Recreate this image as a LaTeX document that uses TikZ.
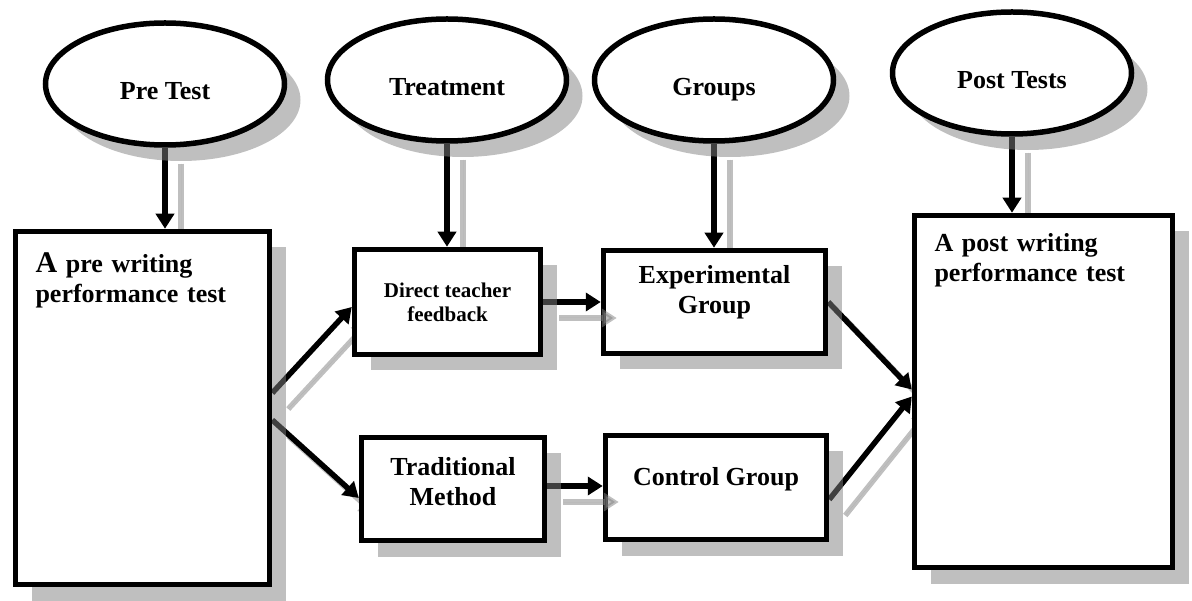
\documentclass[tikz,border=0pt]{standalone}
\usepackage{fontspec}
\setmainfont{Liberation Serif}
\usetikzlibrary{shapes.geometric, arrows.meta, shadows}
\definecolor{ShadeGray}{RGB}{128,128,128}
\pgfdeclarelayer{background}
\pgfdeclarelayer{front}
\pgfsetlayers{background,main,front}

\begin{document}
\begin{tikzpicture}[x=1pt, y=-1pt,
    font=\bfseries\fontsize{26}{30}\selectfont,
    shade/.style={drop shadow={shadow xshift=16pt, shadow yshift=-16pt, fill=ShadeGray, opacity=0.5}},
    oval/.style={ellipse, draw, line width=5.5pt, fill=white, shade, minimum width=239pt, minimum height=122pt, text height=31pt, text depth=0pt},
    box/.style={rectangle, draw, line width=5.5pt, fill=white, shade, align=center},
    bigbox/.style={box, align=left, inner xsep=20pt, inner ysep=0pt},
    arr/.style={line width=5.5pt, -{Triangle[length=15pt, width=18pt]}},
    arrshade/.style={arr, draw=ShadeGray, fill=ShadeGray, opacity=0.5, transform canvas={shift={(16pt,-16pt)}}}]
          \useasboundingbox (0,0) rectangle (1192,601);
          \node[oval] (PreTest) at (165,84) {Pre Test};
          \node[oval] (Treatment) at (447,80) {Treatment};
          \node[oval] (Groups) at (714,80) {Groups};
          \node[oval] (PostTests) at (1012,73) {Post Tests};
          \node[bigbox, text width=214pt, text height=41pt, text depth=312pt] (PreBox) at (142.5,408)
            {{\fontsize{30}{30}\selectfont A} pre writing\\performance test};
          \node[box, minimum width=186pt, minimum height=105pt, font=\bfseries\fontsize{21}{24}\selectfont] (Direct) at (447.5,302)
            {Direct teacher\\feedback};
          \node[box, minimum width=183pt, minimum height=103pt, text height=33pt] (Trad) at (453,489) {Traditional\\Method};
          \node[box, minimum width=222pt, minimum height=103pt, text height=28pt] (Exp) at (714.5,302) {Experimental\\Group};
          \node[box, minimum width=221pt, minimum height=104pt, text depth=23pt] (Control) at (716,487.5) {Control Group};
          \node[bigbox, text width=218pt, text height=36.5pt, text depth=315.5pt] (Post) at (1043.5,391.5)
            {A post writing\\performance test};
          \coordinate (preUp) at ([yshift=15pt]PreBox.east);
          \coordinate (preDown) at ([yshift=-12pt]PreBox.east);
          \coordinate (dirIn) at ([yshift=-5pt]Direct.west);
          \coordinate (tradIn) at ([yshift=-9pt]Trad.west);
          \coordinate (dirOut) at (Direct.east);
          \coordinate (expIn) at (Direct.east -| Exp.west);
          \coordinate (tradOut) at ([yshift=3pt]Trad.east);
          \coordinate (ctrlIn) at (tradOut -| Control.west);
          \coordinate (expOut) at (Exp.east);
          \coordinate (ctrlOut) at ([yshift=-12pt]Control.east);
          \coordinate (postUp) at ([yshift=2pt]Post.west);
          \coordinate (postDown) at ([yshift=-5pt]Post.west);
          \begin{pgfonlayer}{background}
            \foreach \s/\t in {PreTest/PreBox, Treatment/Direct, Groups/Exp, PostTests/Post} {
              \draw[arrshade] (\s) -- (\s |- \t.north);
              \draw[arr] (\s) -- (\s |- \t.north);
            }
            \foreach \s/\t in {preUp/dirIn, preDown/tradIn, expOut/postUp, ctrlOut/postDown} {
              \draw[arrshade] (\s) -- (\t);
              \draw[arr] (\s) -- (\t);
            }
            \foreach \s/\t in {dirOut/expIn, tradOut/ctrlIn}
              \draw[arr] (\s) -- (\t);
          \end{pgfonlayer}
          \begin{pgfonlayer}{front}
            \foreach \s/\t in {dirOut/expIn, tradOut/ctrlIn}
              \draw[arrshade] (\s) -- (\t);
          \end{pgfonlayer}
        \end{tikzpicture}
\end{document}
